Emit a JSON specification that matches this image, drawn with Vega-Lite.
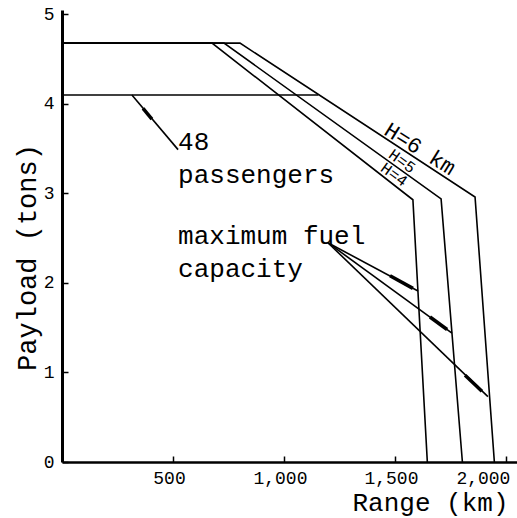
{
  "$schema": "https://vega.github.io/schema/vega-lite/v6.json",
  "width": 455,
  "height": 452,
  "autosize": {"type": "none"},
  "padding": {"left": 62, "top": 10, "right": 0, "bottom": 56},
  "background": "white",
  "config": {"view": {"stroke": null}, "font": "Liberation Mono"},
  "datasets": {
    "curves": [
      {"series": "pax48", "seq": 1, "range": 0, "payload": 4.1},
      {"series": "pax48", "seq": 2, "range": 1155, "payload": 4.1},
      {"series": "H4", "seq": 1, "range": 0, "payload": 4.68},
      {"series": "H4", "seq": 2, "range": 676, "payload": 4.68},
      {"series": "H4", "seq": 3, "range": 1581, "payload": 2.93},
      {"series": "H4", "seq": 4, "range": 1646, "payload": 0},
      {"series": "H5", "seq": 1, "range": 0, "payload": 4.68},
      {"series": "H5", "seq": 2, "range": 730, "payload": 4.68},
      {"series": "H5", "seq": 3, "range": 1708, "payload": 2.94},
      {"series": "H5", "seq": 4, "range": 1804, "payload": 0},
      {"series": "H6", "seq": 1, "range": 0, "payload": 4.68},
      {"series": "H6", "seq": 2, "range": 802, "payload": 4.68},
      {"series": "H6", "seq": 3, "range": 1861, "payload": 2.96},
      {"series": "H6", "seq": 4, "range": 1948, "payload": 0},
      {"series": "lead48", "seq": 1, "range": 315, "payload": 4.1},
      {"series": "lead48", "seq": 2, "range": 523, "payload": 3.49},
      {"series": "fuel4", "seq": 1, "range": 1198, "payload": 2.45},
      {"series": "fuel4", "seq": 2, "range": 1604, "payload": 1.91},
      {"series": "fuel5", "seq": 1, "range": 1198, "payload": 2.45},
      {"series": "fuel5", "seq": 2, "range": 1757, "payload": 1.44},
      {"series": "fuel6", "seq": 1, "range": 1198, "payload": 2.45},
      {"series": "fuel6", "seq": 2, "range": 1919, "payload": 0.73}
    ],
    "arrows": [
      {"series": "a48", "seq": 1, "range": 365, "payload": 3.95},
      {"series": "a48", "seq": 2, "range": 405, "payload": 3.83},
      {"series": "af4", "seq": 1, "range": 1478, "payload": 2.08},
      {"series": "af4", "seq": 2, "range": 1581, "payload": 1.94},
      {"series": "af5", "seq": 1, "range": 1658, "payload": 1.62},
      {"series": "af5", "seq": 2, "range": 1735, "payload": 1.48},
      {"series": "af6", "seq": 1, "range": 1816, "payload": 0.97},
      {"series": "af6", "seq": 2, "range": 1892, "payload": 0.79}
    ],
    "notes": [
      {"range": 523, "payload": 3.49, "text": "48"},
      {"range": 523, "payload": 3.12, "text": "passengers"},
      {"range": 523, "payload": 2.44, "text": "maximum fuel"},
      {"range": 523, "payload": 2.07, "text": "capacity"}
    ],
    "hlabel6": [
      {"range": 1613, "payload": 3.5, "text": "H=6 km"}
    ],
    "hlabel45": [
      {"range": 1532, "payload": 3.36, "text": "H=5"},
      {"range": 1496, "payload": 3.21, "text": "H=4"}
    ]
  },
  "layer": [
    {
      "data": {"name": "curves"},
      "mark": {"type": "line", "color": "black", "strokeWidth": 1.6},
      "encoding": {
        "x": {
          "field": "range", "type": "quantitative",
          "scale": {"domain": [0, 2050], "nice": false, "zero": false},
          "axis": {
            "values": [500, 1000, 1500, 2000],
            "format": ",d",
            "grid": false,
            "title": "Range (km)",
            "titleFont": "Liberation Mono",
            "titleFontSize": 26,
            "titleFontWeight": "normal",
            "titleColor": "black",
            "titleAlign": "right",
            "titleBaseline": "alphabetic",
            "titleX": 446,
            "titleY": 48,
            "domainColor": "black",
            "domainWidth": 2.5,
            "tickColor": "black",
            "tickWidth": 1.5,
            "tickSize": -6,
            "labelFont": "Liberation Mono",
            "labelFontSize": 18,
            "labelColor": "black",
            "labelPadding": 13,
            "labelFlush": false,
            "labelAlign": {"condition": {"test": "datum.value == 2000", "value": "right"}, "value": "center"},
            "labelOffset": {"condition": {"test": "datum.value == 2000", "value": 4}, "value": -4}
          }
        },
        "y": {
          "field": "payload", "type": "quantitative",
          "scale": {"domain": [0, 5.05], "nice": false, "zero": false},
          "axis": {
            "values": [0, 1, 2, 3, 4, 5],
            "format": "d",
            "grid": false,
            "title": "Payload (tons)",
            "titleFont": "Liberation Mono",
            "titleFontSize": 27,
            "titleFontWeight": "normal",
            "titleColor": "black",
            "titleAngle": 270,
            "titleAlign": "center",
            "titleBaseline": "alphabetic",
            "titleX": -27,
            "titleY": 247,
            "domainColor": "black",
            "domainWidth": 3,
            "tickColor": "black",
            "tickWidth": 1.5,
            "tickSize": -6,
            "labelFont": "Liberation Mono",
            "labelFontSize": 18,
            "labelColor": "black",
            "labelPadding": 14,
            "labelFlush": false
          }
        },
        "detail": {"field": "series"},
        "order": {"field": "seq", "type": "quantitative"}
      }
    },
    {
      "data": {"name": "arrows"},
      "mark": {"type": "line", "color": "black", "strokeWidth": 3.5},
      "encoding": {
        "x": {"field": "range", "type": "quantitative", "scale": {"domain": [0, 2050], "nice": false, "zero": false}},
        "y": {"field": "payload", "type": "quantitative", "scale": {"domain": [0, 5.05], "nice": false, "zero": false}},
        "detail": {"field": "series"},
        "order": {"field": "seq", "type": "quantitative"}
      }
    },
    {
      "data": {"name": "notes"},
      "mark": {"type": "text", "align": "left", "baseline": "alphabetic", "font": "Liberation Mono", "fontSize": 26, "color": "black"},
      "encoding": {
        "x": {"field": "range", "type": "quantitative", "scale": {"domain": [0, 2050], "nice": false, "zero": false}},
        "y": {"field": "payload", "type": "quantitative", "scale": {"domain": [0, 5.05], "nice": false, "zero": false}},
        "text": {"field": "text"}
      }
    },
    {
      "data": {"name": "hlabel6"},
      "mark": {"type": "text", "align": "center", "baseline": "middle", "font": "Liberation Mono", "fontSize": 22, "angle": 32, "color": "black"},
      "encoding": {
        "x": {"field": "range", "type": "quantitative", "scale": {"domain": [0, 2050], "nice": false, "zero": false}},
        "y": {"field": "payload", "type": "quantitative", "scale": {"domain": [0, 5.05], "nice": false, "zero": false}},
        "text": {"field": "text"}
      }
    },
    {
      "data": {"name": "hlabel45"},
      "mark": {"type": "text", "align": "center", "baseline": "middle", "font": "Liberation Mono", "fontSize": 16, "angle": 36, "color": "black"},
      "encoding": {
        "x": {"field": "range", "type": "quantitative", "scale": {"domain": [0, 2050], "nice": false, "zero": false}},
        "y": {"field": "payload", "type": "quantitative", "scale": {"domain": [0, 5.05], "nice": false, "zero": false}},
        "text": {"field": "text"}
      }
    }
  ]
}
